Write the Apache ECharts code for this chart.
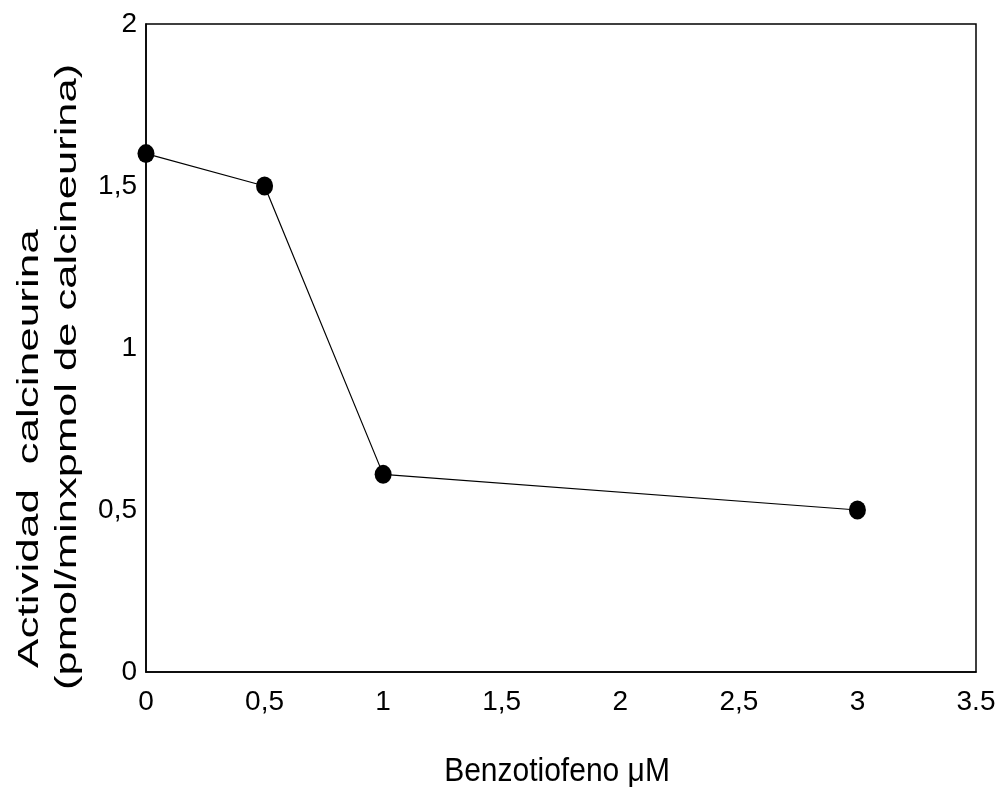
<!DOCTYPE html>
<html>
<head>
<meta charset="utf-8">
<script src="https://cdn.jsdelivr.net/npm/echarts@6/dist/echarts.min.js"></script>
<style>
  html, body { margin: 0; padding: 0; background: #fff; }
  #chart { width: 1000px; height: 789px; }
</style>
</head>
<body>
<div id="chart"></div>
<script>
// concentrations (µM) and measured activity
const doses = [0, 0.5, 1, 3];
const activity = [1.6, 1.5, 0.61, 0.5];

// tick labels as printed on the figure
const xTickLabels = ['0', '0,5', '1', '1,5', '2', '2,5', '3', '3.5'];
const yTickLabels = ['0', '0,5', '1', '1,5', '2'];

const xTitle = 'Benzotiofeno μM';
const yTitle1 = 'Actividad  calcineurina';
const yTitle2 = '(pmol/minxpmol de calcineurina)';

const font = 'Liberation Sans, Arial, sans-serif';
const chart = echarts.init(document.getElementById('chart'));

chart.setOption({
  animation: false,
  backgroundColor: '#fff',
  grid: { left: 146, right: 24, top: 24, bottom: 117 },
  xAxis: {
    type: 'value',
    min: 0,
    max: 3.5,
    interval: 0.5,
    axisLine: { onZero: false, lineStyle: { color: '#000', width: 1.5 } },
    axisTick: { show: false },
    splitLine: { show: false },
    axisLabel: {
      fontFamily: font,
      fontSize: 28,
      color: '#000',
      margin: 16,
      formatter: (v) => xTickLabels[Math.round(v / 0.5)]
    }
  },
  yAxis: {
    type: 'value',
    min: 0,
    max: 2,
    interval: 0.5,
    axisLine: { onZero: false, lineStyle: { color: '#000', width: 1.5 } },
    axisTick: { show: false },
    splitLine: { show: false },
    axisLabel: {
      fontFamily: font,
      fontSize: 28,
      color: '#000',
      margin: 9,
      formatter: (v) => yTickLabels[Math.round(v / 0.5)]
    }
  },
  // the scanned figure stretches the lettering vertically
  graphic: [
    {
      type: 'rect',
      shape: { x: 146, y: 24, width: 830, height: 648 },
      style: { fill: 'none', stroke: '#000', lineWidth: 1.5 },
      silent: true
    },
    {
      type: 'text',
      x: 557, y: 772,
      scaleX: 1, scaleY: 1.1,
      style: { text: xTitle, fontFamily: font, fontSize: 30, fill: '#000', align: 'center', verticalAlign: 'middle' }
    },
    {
      type: 'text',
      x: 30, y: 668,
      rotation: Math.PI / 2,
      scaleX: 1.47, scaleY: 1,
      style: { text: yTitle1, fontFamily: font, fontSize: 30, fill: '#000', align: 'left', verticalAlign: 'middle' }
    },
    {
      type: 'text',
      x: 68, y: 690,
      rotation: Math.PI / 2,
      scaleX: 1.45, scaleY: 1,
      style: { text: yTitle2, fontFamily: font, fontSize: 30, fill: '#000', align: 'left', verticalAlign: 'middle' }
    }
  ],
  series: [{
    type: 'line',
    data: doses.map((d, i) => [d, activity[i]]),
    symbol: 'circle',
    symbolSize: [17, 19],
    itemStyle: { color: '#000' },
    lineStyle: { color: '#000', width: 1.2 },
    clip: false
  }]
});
</script>
</body>
</html>
